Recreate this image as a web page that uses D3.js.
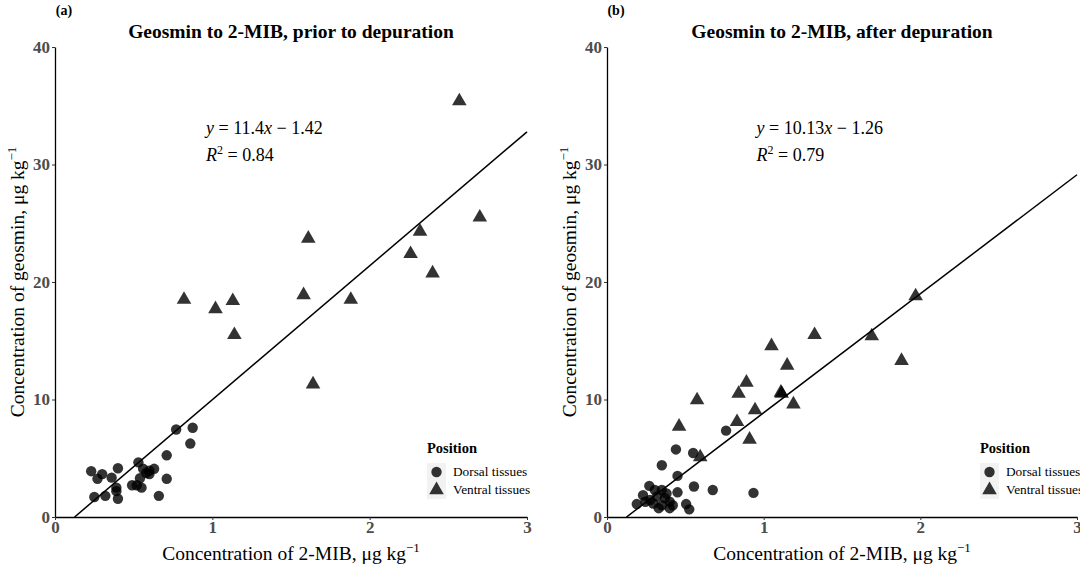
<!DOCTYPE html>
<html>
<head>
<meta charset="utf-8">
<script src="https://cdn.jsdelivr.net/npm/d3@7"></script>
<style>
  body { margin: 0; background: #fff; }
  svg { display: block; font-family: "Liberation Serif", "DejaVu Serif", serif; }
</style>
</head>
<body>
<svg id="chart" width="1080" height="568"></svg>
<script>
// panel titles and fit labels
var panelTags = ["(a)", "(b)"];
var panelTitles = ["Geosmin to 2-MIB, prior to depuration", "Geosmin to 2-MIB, after depuration"];
var fitSlopes = [11.4, 10.13];
var fitIntercepts = [-1.42, -1.26];
var fitR2 = ["0.84", "0.79"];
var xTicks = [0, 1, 2, 3];
var yTicks = [0, 10, 20, 30, 40];
var legendLabels = ["Dorsal tissues", "Ventral tissues"];

// prior to depuration, [2-MIB, geosmin]
var priorDorsal = [
  [0.23, 3.9], [0.30, 3.65], [0.27, 3.25], [0.36, 3.35], [0.40, 4.15],
  [0.25, 1.7], [0.32, 1.8], [0.39, 2.5], [0.40, 1.55], [0.39, 2.2],
  [0.49, 2.7], [0.52, 2.7], [0.55, 2.5], [0.53, 4.65], [0.56, 4.1],
  [0.54, 3.3], [0.58, 3.75], [0.60, 3.95], [0.63, 4.1], [0.60, 3.65],
  [0.66, 1.8], [0.71, 5.25], [0.71, 3.25], [0.77, 7.45], [0.875, 7.6],
  [0.86, 6.25]
];
var priorVentral = [
  [2.57, 35.4], [2.70, 25.5], [2.32, 24.3], [2.26, 22.4], [2.40, 20.75],
  [1.61, 23.7], [1.58, 18.9], [1.88, 18.5], [1.64, 11.3], [0.82, 18.5],
  [1.02, 17.7], [1.13, 18.4], [1.14, 15.5]
];

// after depuration, [2-MIB, geosmin]
var afterDorsal = [
  [0.76, 7.35], [0.44, 5.75], [0.55, 5.45], [0.35, 4.4], [0.45, 3.5],
  [0.555, 2.6], [0.675, 2.3], [0.935, 2.05], [0.45, 2.1], [0.27, 2.65],
  [0.23, 1.85], [0.19, 1.1], [0.245, 1.3], [0.305, 2.3], [0.35, 2.3],
  [0.32, 1.75], [0.295, 1.15], [0.37, 1.6], [0.35, 1.0], [0.40, 1.3],
  [0.40, 0.75], [0.505, 1.1], [0.525, 0.65], [0.33, 0.75], [0.38, 2.0],
  [0.42, 1.0], [0.275, 1.45]
];
var afterVentral = [
  [1.97, 18.8], [1.69, 15.4], [1.88, 13.3], [1.325, 15.5], [1.05, 14.55],
  [1.15, 12.9], [0.89, 11.45], [0.84, 10.5], [1.115, 10.5], [1.11, 10.6],
  [1.19, 9.6], [0.945, 9.1], [0.575, 9.95], [0.83, 8.1], [0.46, 7.7],
  [0.91, 6.6], [0.595, 5.1]
];

(function () {
  var svg = d3.select("#chart");
  var panels = [
    { left: 55, right: 527, dorsal: priorDorsal, ventral: priorVentral },
    { left: 607, right: 1077, dorsal: afterDorsal, ventral: afterVentral }
  ];
  var plotTop = 47, plotBottom = 517;
  var tickColor = "#4d4d4d";

  var y = d3.scaleLinear().domain([0, 40]).range([plotBottom, plotTop]);

  var triangle = d3.symbol().type(d3.symbolTriangle).size(92);
  var circle = d3.symbol().type(d3.symbolCircle).size(85);

  svg.append("defs").selectAll("clipPath")
    .data(panels)
    .join("clipPath")
    .attr("id", function (d, i) { return "clip" + i; })
    .append("rect")
    .attr("x", function (d) { return d.left; })
    .attr("y", plotTop)
    .attr("width", function (d) { return d.right - d.left + 4; })
    .attr("height", plotBottom - plotTop);

  panels.forEach(function (p, i) {
    var x = d3.scaleLinear().domain([0, 3]).range([p.left, p.right]);
    var g = svg.append("g");
    var mid = (p.left + p.right) / 2;

    var yAxis = g.append("g")
      .attr("transform", "translate(" + p.left + ",0)")
      .call(d3.axisLeft(y).tickValues(yTicks).tickFormat(d3.format("d"))
        .tickSize(3).tickSizeOuter(0).tickPadding(2));
    var xAxis = g.append("g")
      .attr("transform", "translate(0," + plotBottom + ")")
      .call(d3.axisBottom(x).tickValues(xTicks).tickFormat(d3.format("d"))
        .tickSize(3).tickSizeOuter(0).tickPadding(1));

    [xAxis, yAxis].forEach(function (ax) {
      ax.attr("font-family", null).attr("font-size", null);
      ax.select(".domain").attr("stroke", "#000").attr("stroke-width", 1.3);
      ax.selectAll(".tick line").attr("stroke", "#333");
      ax.selectAll(".tick text")
        .attr("fill", tickColor)
        .attr("font-weight", "bold")
        .attr("font-size", 17);
    });

    // tag + title
    g.append("text")
      .attr("x", p.left + 9).attr("y", 15)
      .attr("text-anchor", "middle")
      .attr("font-weight", "bold").attr("font-size", 14)
      .text(panelTags[i]);
    g.append("text")
      .attr("x", mid).attr("y", 38)
      .attr("text-anchor", "middle")
      .attr("font-weight", "bold").attr("font-size", 19.5)
      .text(panelTitles[i]);

    // axis titles
    var xt = g.append("text")
      .attr("x", mid).attr("y", 560)
      .attr("text-anchor", "middle")
      .attr("font-size", 19.5);
    xt.append("tspan").text("Concentration of 2-MIB, μg kg");
    xt.append("tspan").attr("dy", -8).attr("font-size", 13).text("−1");

    var yt = g.append("text")
      .attr("transform", "translate(" + (p.left - 31) + "," + ((plotTop + plotBottom) / 2) + ") rotate(-90)")
      .attr("text-anchor", "middle")
      .attr("font-size", 19.5);
    yt.append("tspan").text("Concentration of geosmin, μg kg");
    yt.append("tspan").attr("dy", -8).attr("font-size", 13).text("−1");

    // fit line
    var x0 = Math.max(0, -fitIntercepts[i] / fitSlopes[i]);
    var line = d3.line()
      .x(function (d) { return x(d); })
      .y(function (d) { return y(fitSlopes[i] * d + fitIntercepts[i]); });
    g.append("path")
      .datum([x0, 3])
      .attr("clip-path", "url(#clip" + i + ")")
      .attr("fill", "none")
      .attr("stroke", "#000")
      .attr("stroke-width", 1.5)
      .attr("d", line);

    // points
    g.append("g").selectAll("path")
      .data(p.dorsal)
      .join("path")
      .attr("transform", function (d) { return "translate(" + x(d[0]) + "," + y(d[1]) + ")"; })
      .attr("d", circle)
      .attr("fill", "#000")
      .attr("fill-opacity", 0.8);
    g.append("g").selectAll("path")
      .data(p.ventral)
      .join("path")
      .attr("transform", function (d) { return "translate(" + x(d[0]) + "," + y(d[1]) + ")"; })
      .attr("d", triangle)
      .attr("fill", "#000")
      .attr("fill-opacity", 0.8);

    // equation
    var ex = x(i === 0 ? 0.96 : 0.955);
    var eq = g.append("text").attr("x", ex).attr("y", 134).attr("font-size", 18);
    eq.append("tspan").attr("font-style", "italic").text("y");
    eq.append("tspan").text(" = " + fitSlopes[i]);
    eq.append("tspan").attr("font-style", "italic").text("x");
    eq.append("tspan").text(" − " + Math.abs(fitIntercepts[i]));
    var r2 = g.append("text").attr("x", ex).attr("y", 161).attr("font-size", 18);
    r2.append("tspan").attr("font-style", "italic").text("R");
    r2.append("tspan").attr("dy", -7).attr("font-size", 12).text("2");
    r2.append("tspan").attr("dy", 7).text(" = " + fitR2[i]);

    // legend
    var lx = p.right - (i === 0 ? 100 : 97);
    var lg = g.append("g").attr("transform", "translate(" + lx + ",0)");
    lg.append("text")
      .attr("x", 0).attr("y", 453)
      .attr("font-weight", "bold").attr("font-size", 14.5)
      .text("Position");
    lg.selectAll("rect")
      .data(legendLabels)
      .join("rect")
      .attr("x", 0).attr("y", function (d, k) { return 463 + k * 18; })
      .attr("width", 19).attr("height", 18)
      .attr("fill", "#f2f2f2");
    lg.selectAll("path")
      .data(legendLabels)
      .join("path")
      .attr("transform", function (d, k) { return "translate(9.5," + (472 + k * 18) + ")"; })
      .attr("d", function (d, k) { return k === 0 ? circle() : triangle(); })
      .attr("fill", "#000")
      .attr("fill-opacity", 0.8);
    lg.selectAll("text.lab")
      .data(legendLabels)
      .join("text")
      .attr("class", "lab")
      .attr("x", 26).attr("y", function (d, k) { return 476 + k * 18; })
      .attr("font-size", 13.3)
      .text(function (d) { return d; });
  });
})();
</script>
</body>
</html>
